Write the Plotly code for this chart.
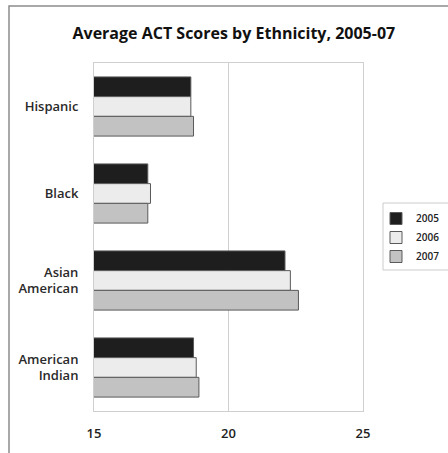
import plotly.graph_objects as go

categories = ["Hispanic", "Black", "Asian<br>American", "American<br>Indian"]
years = ["2005", "2006", "2007"]
scores_2005 = [18.6, 17.0, 22.1, 18.7]
scores_2006 = [18.6, 17.1, 22.3, 18.8]
scores_2007 = [18.7, 17.0, 22.6, 18.9]
series = [scores_2005, scores_2006, scores_2007]
colors = ["#1e1e1e", "#ececec", "#c2c2c2"]
x_ticks = [15, 20, 25]

fig = go.Figure()
for name, vals, col in zip(years, series, colors):
    fig.add_trace(go.Bar(
        y=categories, x=vals, name=name, orientation="h",
        marker=dict(color=col, line=dict(color="#5a5a5a", width=1)),
    ))

L, R, T, B = 94, 85, 63, 42
W, H = 448, 453
pw, ph = W - L - R, H - T - B

def px(x):
    return (x - L) / pw

def py(y):
    return 1 - (y - T) / ph

fig.update_layout(
    width=W, height=H,
    margin=dict(l=L, r=R, t=T, b=B, autoexpand=False),
    paper_bgcolor="white", plot_bgcolor="white",
    barmode="group", bargap=0.32, bargroupgap=0,
    font=dict(family="Open Sans", color="#222222"),
    title=dict(text="<b>Average ACT Scores by Ethnicity, 2005-07</b>",
               x=0.522, xref="container", xanchor="center",
               y=1 - 33 / H, yref="container", yanchor="middle",
               font=dict(size=16, color="#111111", family="Open Sans")),
    xaxis=dict(range=[15, 25], tickvals=x_ticks, showgrid=True,
               gridcolor="#cfcfcf", gridwidth=1, zeroline=False,
               showline=True, linecolor="#cfcfcf", mirror=True,
               ticks="", ticklabelstandoff=10,
               tickfont=dict(size=13, weight=600, color="#222222")),
    yaxis=dict(autorange="reversed", showline=True, linecolor="#cfcfcf",
               mirror=True, ticks="", ticklabelstandoff=12,
               tickfont=dict(size=13, weight=600, color="#2a2a2a")),
    showlegend=True,
    legend=dict(x=px(376), xanchor="left", y=py(204), yanchor="top",
                bgcolor="rgba(0,0,0,0)", borderwidth=0,
                font=dict(size=10, weight=600, color="#222222"),
                itemwidth=30),
    shapes=[
        dict(type="rect", xref="paper", yref="paper",
             x0=px(383), x1=px(470), y0=py(270), y1=py(203),
             line=dict(color="#cccccc", width=1), fillcolor="rgba(0,0,0,0)",
             layer="below"),
        dict(type="rect", xref="paper", yref="paper",
             x0=px(9), x1=px(460), y0=py(460), y1=py(6),
             line=dict(color="#8c8c8c", width=1.5), fillcolor="rgba(0,0,0,0)",
             layer="below"),
    ],
)

fig.write_html("out.html")
